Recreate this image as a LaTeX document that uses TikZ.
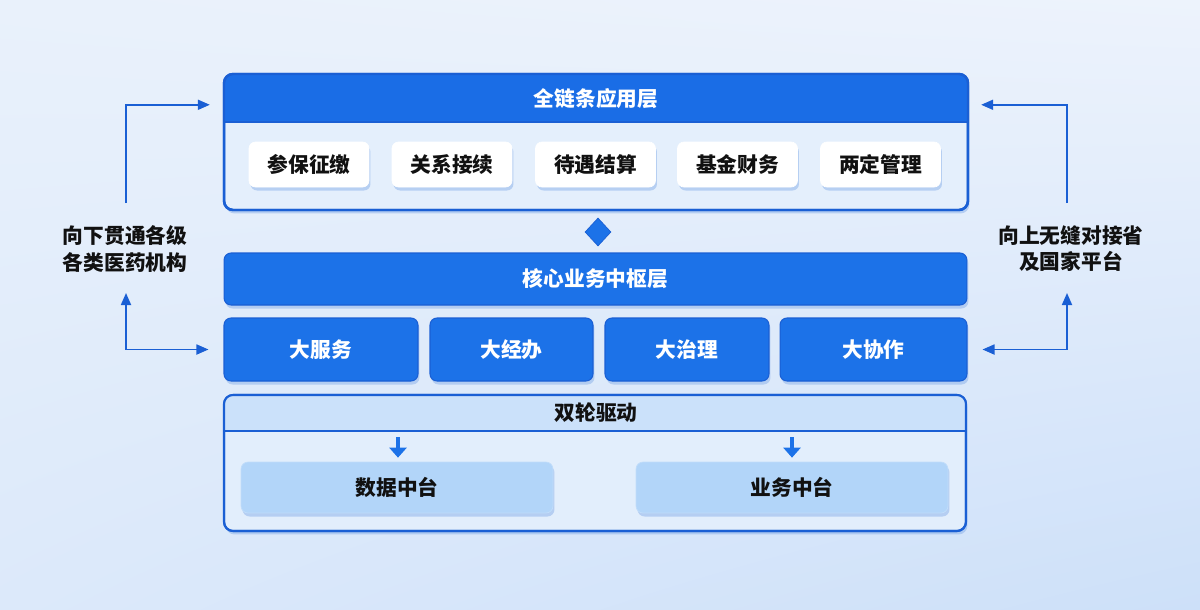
\documentclass[tikz,border=0pt]{standalone}
\usepackage{fontspec}
\newfontfamily\cjk{Noto Sans CJK SC}
\usetikzlibrary{arrows.meta,shapes.geometric,shadows,shadings,calc}
\definecolor{bgUL}{HTML}{E9F1FB}
\definecolor{bgUR}{HTML}{EDF3FC}
\definecolor{bgLL}{HTML}{DCE9FA}
\definecolor{bgLR}{HTML}{CDE0F9}
\definecolor{mainblue}{HTML}{1C72E8}
\definecolor{hdrblue}{HTML}{1A6DE6}
\definecolor{edgeblue}{HTML}{1A5FD4}
\definecolor{panel}{HTML}{E4EFFC}
\definecolor{lowhdr}{HTML}{CBE1FA}
\definecolor{lowpanel}{HTML}{E2EEFC}
\definecolor{databox}{HTML}{B2D5F9}
\definecolor{shadowblue}{HTML}{7FA9E8}
\definecolor{ink}{HTML}{111111}
\tikzset{
  txt/.style={font=\cjk\bfseries\fontsize{11.8}{14.8}\selectfont},
  shad/.style={drop shadow={shadow xshift=0.03cm,shadow yshift=-0.07cm,fill=shadowblue,opacity=0.45}},
  whitebtn/.style={txt,shad,draw=white,fill=white,rounded corners=0.13cm,minimum width=2.4cm,minimum height=0.9cm,text=ink},
  bluebtn/.style={txt,shad,draw=edgeblue,line width=0.6pt,fill=mainblue,rounded corners=0.14cm,minimum height=1.26cm,text=white},
  databtn/.style={txt,shad,draw=databox!80!white,fill=databox,rounded corners=0.14cm,minimum width=6.24cm,minimum height=1.02cm,text=ink},
  sidetxt/.style={txt,align=center,text=ink},
  connector/.style={draw=edgeblue,line width=1pt,-{Triangle[length=0.24cm,width=0.2cm]}},
  twoway/.style={draw=edgeblue,line width=1pt,{Triangle[length=0.24cm,width=0.2cm]}-{Triangle[length=0.24cm,width=0.2cm]}},
  downarrow/.style={draw=mainblue,line width=0.09cm,-{Triangle[length=0.2cm,width=0.34cm]}}
}
\begin{document}
\begin{tikzpicture}[x=0.02cm,y=-0.02cm]
\useasboundingbox (0,0) rectangle (1200,609);
\shade[upper left=bgUL,upper right=bgUR,lower left=bgLL,lower right=bgLR] (0,0) rectangle (1200,609);

% ---------- application layer ----------
\node[shad,draw=edgeblue,line width=1.4pt,fill=panel,rounded corners=0.18cm,minimum width=14.88cm,minimum height=2.72cm] (app) at (596,142) {};
\begin{scope}
  \clip[rounded corners=0.18cm] (224,74) rectangle (968,210);
  \fill[hdrblue] (224,74) rectangle (968,122);
  \draw[edgeblue,line width=1.2pt] (224,122) -- (968,122);
\end{scope}
\draw[edgeblue,line width=1.4pt,rounded corners=0.18cm] (224,74) rectangle (968,210);
\node[txt,text=white] (apptitle) at (596,99) {全链条应用层};

\node[whitebtn] (b1) at (309,164.5) {参保征缴};
\node[whitebtn] (b2) at (452,164.5) {关系接续};
\node[whitebtn] (b3) at (595.5,164.5) {待遇结算};
\node[whitebtn] (b4) at (737.5,164.5) {基金财务};
\node[whitebtn] (b5) at (880.5,164.5) {两定管理};

% ---------- diamond ----------
\node[diamond,fill=mainblue,draw=edgeblue,line width=0.4pt,inner sep=0pt,minimum width=0.52cm,minimum height=0.56cm] (dia) at (598,232) {};

% ---------- core layer ----------
\node[bluebtn,minimum width=14.86cm,minimum height=1.04cm] (core) at (595.5,279) {核心业务中枢层};
\node[bluebtn,minimum width=3.88cm] (svc) at (321,349.5) {大服务};
\node[bluebtn,minimum width=3.26cm] (ops) at (511.5,349.5) {大经办};
\node[bluebtn,minimum width=3.28cm] (gov) at (687,349.5) {大治理};
\node[bluebtn,minimum width=3.74cm] (col) at (873.5,349.5) {大协作};

% ---------- dual wheel layer ----------
\node[shad,draw=edgeblue,line width=1.2pt,fill=lowpanel,rounded corners=0.18cm,minimum width=14.84cm,minimum height=2.72cm] (low) at (595,463) {};
\begin{scope}
  \clip[rounded corners=0.18cm] (224,395) rectangle (966,531);
  \fill[lowhdr] (224,395) rectangle (966,431);
  \draw[edgeblue,line width=1pt] (224,431) -- (966,431);
\end{scope}
\draw[edgeblue,line width=1.2pt,rounded corners=0.18cm] (224,395) rectangle (966,531);
\node[txt,text=ink] (lowtitle) at (596,413) {双轮驱动};

\node[databtn] (data) at (397,487.5) {数据中台};
\node[databtn] (biz) at (792,487.5) {业务中台};
\coordinate (d1s) at (398,437);
\coordinate (d2s) at (792,437);
\draw[downarrow,shorten >=0.08cm] (d1s) -- (data.north -| d1s);
\draw[downarrow,shorten >=0.08cm] (d2s) -- (biz.north);

% ---------- side labels ----------
\node[sidetxt] (ltext) at (125,249) {向下贯通各级\\各类医药机构};
\node[sidetxt] (rtext) at (1071,249) {向上无缝对接省\\及国家平台};

\coordinate (Lt) at (126,203);
\coordinate (Lu) at (126,293);
\coordinate (Rt) at (1067,203);
\coordinate (Ru) at (1067,293);

\draw[connector,shorten >=0.26cm] (Lt) |- ([yshift=-0.64cm]app.north west);
\draw[twoway,shorten >=0.3cm] (Lu) |- (svc.west);
\draw[connector,shorten >=0.24cm] (Rt) |- ([yshift=-0.64cm]app.north east);
\draw[twoway,shorten >=0.3cm] (Ru) |- (col.east);
\end{tikzpicture}
\end{document}
